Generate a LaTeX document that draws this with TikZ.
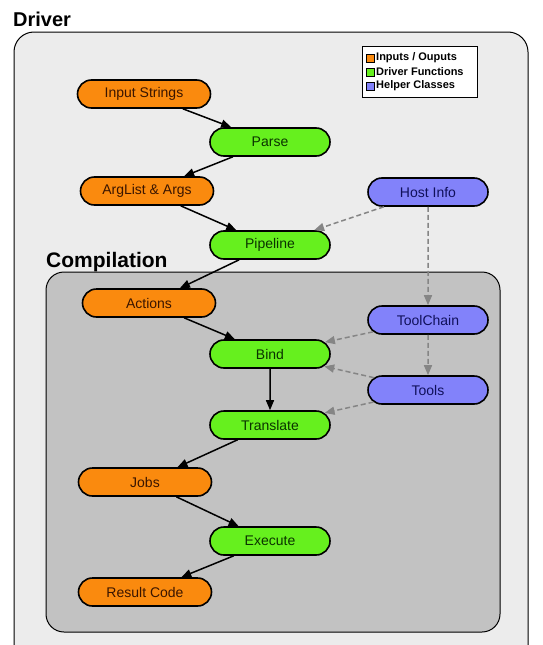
\documentclass[tikz,border=0pt]{standalone}
\usepackage{fontspec}
\setmainfont{Liberation Sans}
\usetikzlibrary{shapes.misc,arrows.meta}
\definecolor{bgout}{HTML}{ECECEC}
\definecolor{bgcomp}{HTML}{C2C2C2}
\definecolor{ioc}{HTML}{FA8A0E}
\definecolor{fnc}{HTML}{66F01E}
\definecolor{hlc}{HTML}{8282FA}
\definecolor{iot}{HTML}{3A1500}
\definecolor{fnt}{HTML}{0A3300}
\definecolor{hlt}{HTML}{10105A}
\definecolor{dashc}{HTML}{858585}
\tikzset{
  base/.style={rounded rectangle, draw=black, line width=1.6pt, minimum height=28pt, inner sep=0pt, font=\fontsize{14}{16}\selectfont},
  io/.style={base, fill=ioc, text=iot, minimum width=133pt},
  fn/.style={base, fill=fnc, text=fnt, minimum width=120pt},
  hl/.style={base, fill=hlc, text=hlt, minimum width=120pt},
  flow/.style={line width=1.5pt, -{Triangle[length=10pt,width=8pt]}},
  dep/.style={line width=1.5pt, dashc, dash pattern=on 5pt off 3pt, -{Triangle[length=10pt,width=8pt]}},
  title/.style={anchor=base west, font=\bfseries\fontsize{20}{24}\selectfont, inner sep=0pt},
  legsq/.style={draw=black, line width=0.6pt, minimum size=8pt, inner sep=0pt},
  legtx/.style={anchor=west, font=\bfseries\fontsize{11}{13}\selectfont, inner sep=0pt}
}
\begin{document}
\begin{tikzpicture}[x=1pt,y=-1pt]
\useasboundingbox (0,0) rectangle (543,645);
\fill[white] (0,0) rectangle (543,645);
\begin{scope}
\clip (0,0) rectangle (543,645);
\draw[fill=bgout, line width=1pt, rounded corners=20pt] (14,32) rectangle (528,700);
\end{scope}
\node[title] (tdrv) at (13,27) {Driver};

% legend
\node[draw=black, fill=white, line width=0.8pt, minimum width=115pt, minimum height=51pt, inner sep=0pt] (leg) at (419.5,71.5) {};
\node[legsq, fill=ioc] (s1) at (370,58) {};
\node[legsq, fill=fnc] (s2) at (370,72) {};
\node[legsq, fill=hlc] (s3) at (370,86) {};
\node[legtx] (l1) at (376,58) {Inputs / Ouputs};
\node[legtx] (l2) at (376,72) {Driver Functions};
\node[legtx] (l3) at (376,86) {Helper Classes};

% compilation box
\draw[fill=bgcomp, line width=1pt, rounded corners=18pt] (46,272) rectangle (500,632);
\node[title, font=\bfseries\fontsize{21}{24}\selectfont] (tcomp) at (46,267) {Compilation};

% nodes
\node[io] (inp) at (144,94) {Input Strings};
\node[fn] (parse) at (270,142) {Parse};
\node[io] (args) at (147,191) {ArgList \& Args};
\node[hl] (host) at (428,192) {Host Info};
\node[fn] (pipe) at (270,245) {Pipeline};
\node[io] (act) at (149,303) {Actions};
\node[hl] (tc) at (428,320) {ToolChain};
\node[fn] (bind) at (270,354) {Bind};
\node[hl] (tools) at (428,390) {Tools};
\node[fn] (trans) at (270,425) {Translate};
\node[io] (jobs) at (145,482) {Jobs};
\node[fn] (exec) at (270,541) {Execute};
\node[io] (res) at (145,592) {Result Code};

% flow
\draw[flow] (inp) -- (parse);
\draw[flow] (parse) -- (args);
\draw[flow] (args) -- (pipe);
\draw[flow] (pipe) -- (act);
\draw[flow] (act) -- (bind);
\draw[flow] (bind) -- (trans);
\draw[flow] (trans) -- (jobs);
\draw[flow] (jobs) -- (exec);
\draw[flow] (exec) -- (res);

% dependencies
\draw[dep] (host) -- (pipe);
\draw[dep] (host) -- (tc);
\draw[dep] (tc) -- (tools);
\draw[dep] (tc) -- (bind);
\draw[dep] (tools) -- (bind);
\draw[dep] (tools) -- (trans);
\end{tikzpicture}
\end{document}
